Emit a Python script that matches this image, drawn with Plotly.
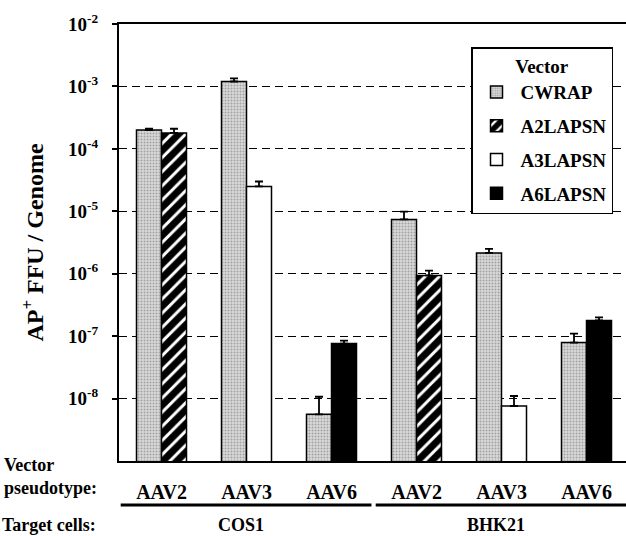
import plotly.graph_objects as go

# ---------------- data ----------------
pseudotypes = ["AAV2", "AAV3", "AAV6", "AAV2", "AAV3", "AAV6"]
target_cells = ["COS1", "COS1", "COS1", "BHK21", "BHK21", "BHK21"]
ytick_vals = [1e-8, 1e-7, 1e-6, 1e-5, 1e-4, 1e-3, 1e-2]
ytick_text = ["10<sup>-8</sup>", "10<sup>-7</sup>", "10<sup>-6</sup>", "10<sup>-5</sup>",
              "10<sup>-4</sup>", "10<sup>-3</sup>", "10<sup>-2</sup>"]

cwrap = [2.0e-4, 1.2e-3, 5.6e-9, 7.4e-6, 2.15e-6, 7.9e-8]
cwrap_top = [2.1e-4, 1.35e-3, 1.07e-8, 9.9e-6, 2.5e-6, 1.1e-7]

a2lapsn = [1.8e-4, None, None, 9.4e-7, None, None]
a2lapsn_top = [2.1e-4, None, None, 1.12e-6, None, None]

a3lapsn = [None, 2.5e-5, None, None, 7.6e-9, None]
a3lapsn_top = [None, 3.0e-5, None, None, 1.1e-8, None]

a6lapsn = [None, None, 7.6e-8, None, None, 1.78e-7]
a6lapsn_top = [None, None, 8.5e-8, None, None, 2.0e-7]

# ---------------- figure ----------------
W, H = 626, 536
ML, MR, MT, MB = 119, 0, 24, 75
plot_w = W - ML - MR
plot_h = H - MT - MB
px_per_cat = 85.0
xs = list(range(len(pseudotypes)))
bw = 25.0 / px_per_cat

FONT = "Liberation Serif"


def up_err(vals, tops):
    return [(t - v) if (v is not None and t is not None) else None for v, t in zip(vals, tops)]


def err(vals, tops):
    return dict(type="data", symmetric=False, array=up_err(vals, tops),
                arrayminus=[0] * len(vals), color="black", thickness=1.8, width=4)


def px_x(p):
    return (p - ML) / plot_w


def px_y(p):
    return (MT + plot_h - p) / plot_h


fig = go.Figure()
series = [
    ("CWRAP", cwrap, cwrap_top, -bw,
     dict(color="#cfcfcf", pattern=dict(shape=".", size=3, solidity=0.35,
                                        fgcolor="#6a6a6a", bgcolor="#d9d9d9"))),
    ("A2LAPSN", a2lapsn, a2lapsn_top, 0,
     dict(color="white", pattern=dict(shape="/", size=10, solidity=0.7, fgopacity=1,
                                      fgcolor="black", bgcolor="white"))),
    ("A3LAPSN", a3lapsn, a3lapsn_top, 0, dict(color="white")),
    ("A6LAPSN", a6lapsn, a6lapsn_top, 0, dict(color="black")),
]
for name, vals, tops, off, mk in series:
    mk = dict(mk)
    mk["line"] = dict(color="black", width=1.5)
    fig.add_trace(go.Bar(
        x=xs, y=vals, name=name, offset=off, width=bw, marker=mk,
        error_y=err(vals, tops), legendgroup=name,
    ))

# group underline shapes and labels
groups = []
for i, c in enumerate(target_cells):
    if not groups or groups[-1][0] != c:
        groups.append([c, i, i])
    else:
        groups[-1][2] = i

for c, i0, i1 in groups:
    fig.add_shape(type="line", xref="x", yref="paper",
                  x0=i0 - 0.48, x1=i1 + 0.47, y0=px_y(505), y1=px_y(505),
                  line=dict(color="black", width=3))
    fig.add_annotation(xref="x", yref="paper", x=(i0 + i1) / 2 - 0.07, y=px_y(525),
                       text=c, showarrow=False, font=dict(size=18),
                       xanchor="center", yanchor="middle")

# left-side text labels
fig.add_annotation(xref="paper", yref="paper", x=px_x(2), y=px_y(465), text="Vector",
                   showarrow=False, xanchor="left", yanchor="middle", font=dict(size=18))
fig.add_annotation(xref="paper", yref="paper", x=px_x(2), y=px_y(488), text="pseudotype:",
                   showarrow=False, xanchor="left", yanchor="middle", font=dict(size=18))
fig.add_annotation(xref="paper", yref="paper", x=px_x(0), y=px_y(525), text="Target cells:",
                   showarrow=False, xanchor="left", yanchor="middle", font=dict(size=18))

# legend title underline
fig.add_shape(type="line", xref="paper", yref="paper",
              x0=px_x(481), x1=px_x(598), y0=px_y(79), y1=px_y(79),
              line=dict(color="black", width=1.5))

fig.update_layout(
    width=W, height=H,
    margin=dict(l=ML, r=MR, t=MT, b=MB),
    paper_bgcolor="white", plot_bgcolor="white",
    font=dict(family=FONT, size=18, color="black", weight="bold"),
    barmode="overlay",
    showlegend=True,
    legend=dict(
        x=px_x(471), y=px_y(47), xanchor="left", yanchor="top",
        bordercolor="black", borderwidth=1.5, bgcolor="white",
        title=dict(text="Vector", side="top center", font=dict(size=19)),
        font=dict(size=19), traceorder="grouped", tracegroupgap=6,
        itemwidth=38,
    ),
    xaxis=dict(
        range=[-0.5, -0.5 + plot_w / px_per_cat],
        tickvals=xs, ticktext=pseudotypes,
        showline=True, mirror=True, linecolor="black", linewidth=2,
        showgrid=False, zeroline=False, ticks="",
        ticklabelstandoff=12, tickfont=dict(size=20),
    ),
    yaxis=dict(
        type="log", range=[-9, -2],
        tickvals=ytick_vals, ticktext=ytick_text,
        showline=True, linecolor="black", linewidth=2,
        ticks="outside", ticklen=5, tickwidth=1.5, tickcolor="black",
        showgrid=True, gridcolor="black", gridwidth=1.3, griddash="8px,5px",
        zeroline=False, tickfont=dict(size=19), ticklabelstandoff=10,
        title=dict(text="AP<sup>+</sup> FFU / Genome", font=dict(size=24), standoff=18),
    ),
)

fig.write_html("out.html", config={"displayModeBar": False},
               post_script="document.body.style.margin='0px';")
